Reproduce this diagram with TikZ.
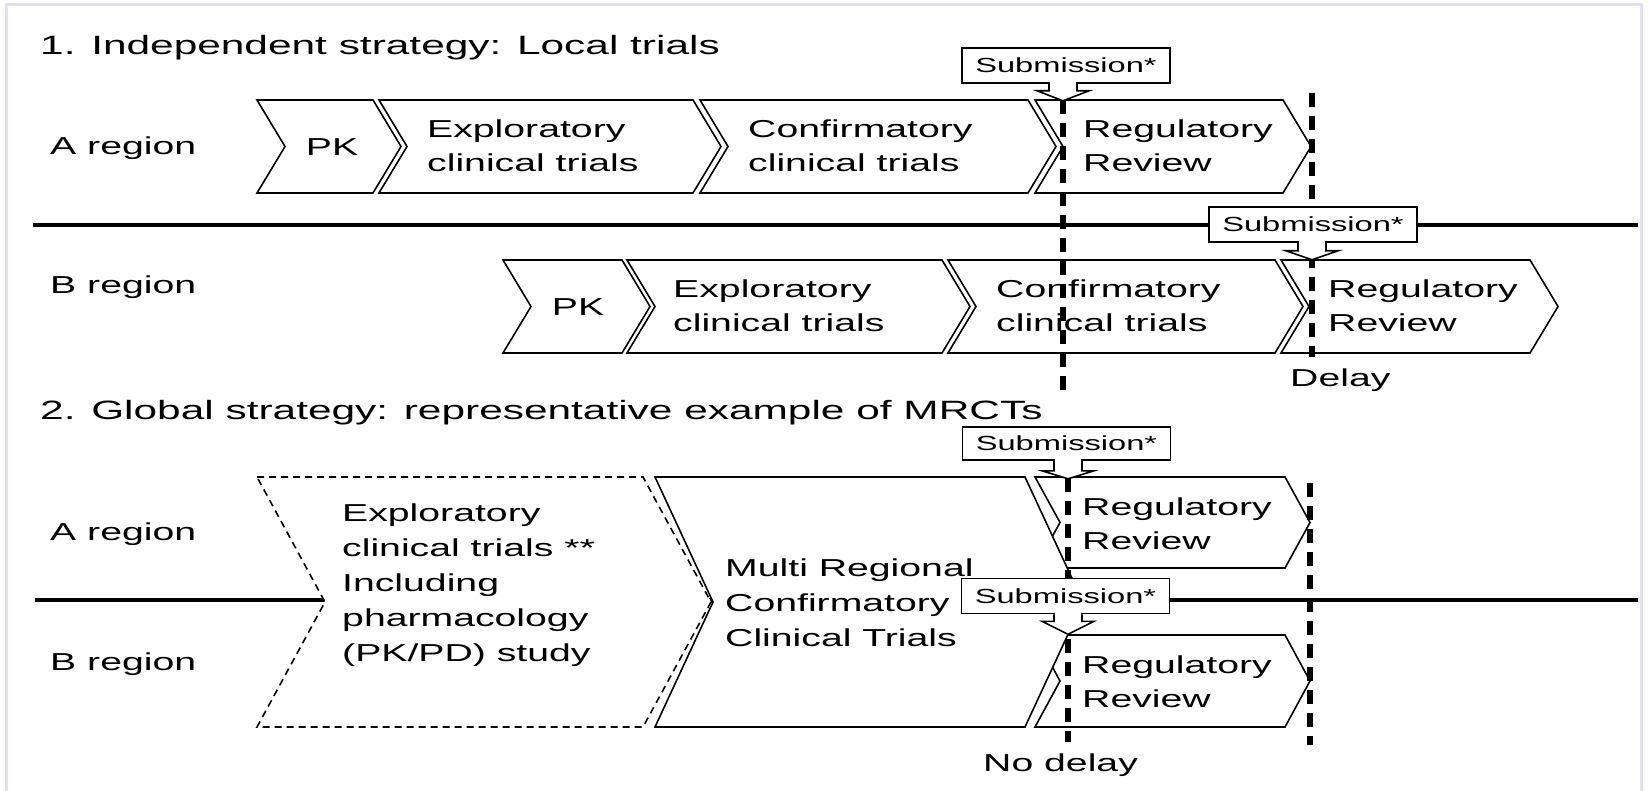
\documentclass[tikz,border=0pt]{standalone}
\usepackage{fontspec}
\setmainfont[FakeStretch=1.6]{Liberation Sans}
\usetikzlibrary{calc}
\definecolor{framecol}{RGB}{224,224,248}
\tikzset{
 boxline/.style={line width=1.6pt, draw=black, fill=white, line join=miter},
 dashbox/.style={dash pattern=on 7pt off 5pt},
 sepline/.style={line width=3.5pt},
 timeline/.style={line width=5.5pt, dash pattern=on 14pt off 9pt},
 arrline/.style={line width=1.6pt, draw=black, fill=white, line join=miter},
 lbl/.style={anchor=west, inner sep=0pt, align=left, font=\fontsize{24.5}{34}\selectfont},
 lbltall/.style={lbl, font=\fontsize{24.5}{35}\selectfont},
 ttl/.style={anchor=base west, inner sep=0pt, font=\fontsize{26.5}{32}\selectfont},
 subbox/.style={draw, line width=1.6pt, fill=white, minimum width=208pt, minimum height=35pt, inner sep=0pt, font=\fontsize{20.4}{24}\selectfont},
}
% chevron: [opts]{x-left}{y-top}{x-right}{y-bottom}{depth}
\newcommand{\chev}[6][]{%
 \pgfmathsetmacro{\cym}{(#3+#5)/2}%
 \pgfmathsetmacro{\cxa}{#2+#6}%
 \pgfmathsetmacro{\cxb}{#4+#6}%
 \draw[boxline,#1] (#2,#3) -- (#4,#3) -- (\cxb,\cym) -- (#4,#5) -- (#2,#5) -- (\cxa,\cym) -- cycle;}
% submission arrow: {node}{x}{stem}{tip}
\newcommand{\subarr}[4]{%
 \coordinate (#1c) at (#2,0);
 \coordinate (#1b) at (#1c |- #1.south);
 \fill[white] ($(#1b)+(-13,-1.5)$) rectangle ($(#1b)+(13,#3)$);
 \draw[arrline] ($(#1b)+(-14,0)$) -- ++(0,#3) -- ++(-12,0) -- ($(#1b)+(0,{#3+#4})$) -- ($(#1b)+(26,#3)$) -- ++(-12,0) -- ($(#1b)+(14,0)$);}
\begin{document}
\begin{tikzpicture}[x=1pt,y=-1pt]
\useasboundingbox (0,0) rectangle (1648,791);
\fill[white] (0,0) rectangle (1648,791);
\draw[framecol, line width=3pt] (6.5,795) -- (6.5,4.5) -- (1641.5,4.5) -- (1641.5,795);

% titles
\node[ttl] (t1) at (40,55) {1. Independent strategy: Local trials};
\node[ttl] (t2) at (40,419) {2. Global strategy: representative example of MRCTs};

% ---------- section 1 ----------
\coordinate (sepAl) at (33,225);
\coordinate (sepAr) at (1638,225);
\draw[sepline] (sepAl) -- (sepAr);
\node[lbl] (la1) at (50,148) {A region};
\node[lbl] (lb1) at (50,287) {B region};

\chev{257}{100}{373}{193}{28}
\chev{379}{100}{693}{193}{28}
\chev{700}{100}{1028}{193}{28}
\chev{1035}{100}{1283}{193}{28}

\chev{503}{260}{622}{353}{28}
\chev{627}{260}{942}{353}{28}
\chev{948}{260}{1275}{353}{28}
\chev{1281}{260}{1530}{353}{28}

\node[lbl, anchor=center] (pka) at (332,147) {PK};
\node[lbl] (expa) at (427,146) {Exploratory\\clinical trials};
\node[lbl] (cona) at (748,146) {Confirmatory\\clinical trials};
\node[lbl] (rega) at (1083,146) {Regulatory\\Review};

\node[lbl, anchor=center] (pkb) at (578,307) {PK};
\node[lbl] (expb) at (673,306) {Exploratory\\clinical trials};
\node[lbl] (conb) at (996,306) {Confirmatory\\clinical trials};
\node[lbl] (regb) at (1328,306) {Regulatory\\Review};

\coordinate (d1t) at (1063,100);
\coordinate (d1b) at (1063,390);
\coordinate (d2t) at (1312,93);
\coordinate (d2b) at (1312,357);
\draw[timeline] (d1t) -- (d1b);
\draw[timeline] (d2t) -- (d2b);

\node[subbox] (s1) at (1066,65.5) {Submission*};
\subarr{s1}{1063}{7}{10}
\node[subbox] (s2) at (1313,224.5) {Submission*};
\subarr{s2}{1312}{8}{9}
\node[lbl] (delay) at (1290,380) {Delay};

% ---------- section 2 ----------
\coordinate (sepBl) at (35,600);
\coordinate (sepBr) at (1638,600);
\draw[sepline] (sepBl) -- (sepBr);
\node[lbl] (la2) at (50,534) {A region};
\node[lbl] (lb2) at (50,664) {B region};

\chev[dashbox]{257}{477}{643}{727}{68}
\chev{1035}{477}{1285}{568}{25}
\chev{1035}{635}{1285}{727}{25}
\chev{655}{477}{1025}{727}{58}

\node[lbltall] (expl) at (342,585) {Exploratory\\clinical trials **\\Including\\pharmacology\\(PK/PD) study};
\node[lbltall] (mrct) at (725,603) {Multi Regional\\Confirmatory\\Clinical Trials};
\node[lbl] (rega2) at (1082,524) {Regulatory\\Review};
\node[lbl] (regb2) at (1082,682) {Regulatory\\Review};

\coordinate (d3t) at (1068,478);
\coordinate (d3b) at (1068,742);
\coordinate (d4t) at (1310,483);
\coordinate (d4b) at (1310,745);
\draw[timeline] (d3t) -- (d3b);
\draw[timeline] (d4t) -- (d4b);

\node[subbox, minimum height=33pt] (s3) at (1066.5,443.5) {Submission*};
\subarr{s3}{1068}{10}{8}
\node[subbox] (s4) at (1065.5,596) {Submission*};
\subarr{s4}{1068}{7}{13}
\node[lbl] (nodelay) at (983,765) {No delay};
\end{tikzpicture}
\end{document}
